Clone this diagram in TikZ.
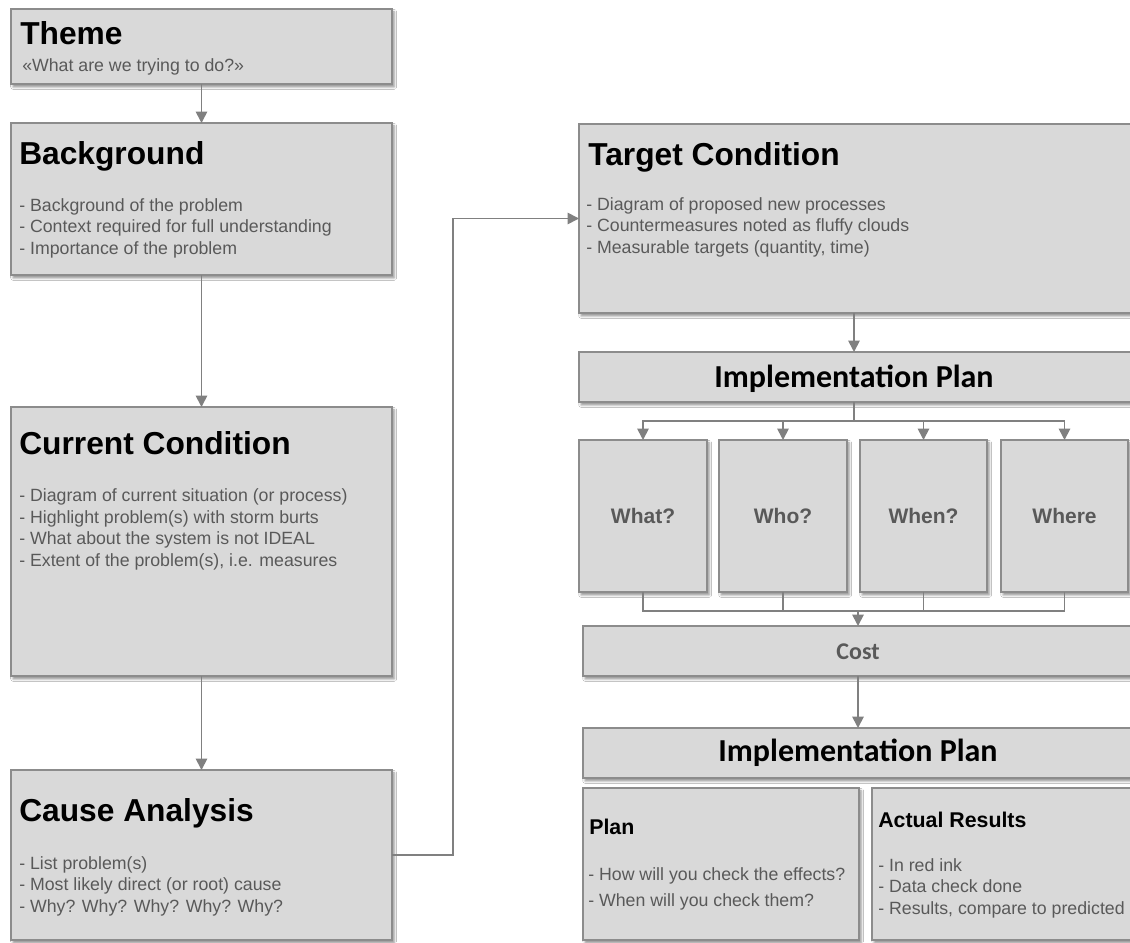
\documentclass[tikz,border=0pt]{standalone}
\usepackage{fontspec}
\setmainfont{Liberation Sans}
\newfontfamily\calibfont{Carlito}
\usetikzlibrary{arrows.meta,shadows.blur}
\definecolor{boxfill}{HTML}{D9D9D9}
\definecolor{boxline}{HTML}{8C8C8C}
\definecolor{linegray}{HTML}{808080}
\definecolor{bodygray}{HTML}{595959}

\begin{document}
\begin{tikzpicture}[x=0.75pt,y=-0.75pt,
  box/.style={draw=boxline, fill=boxfill, line width=0.8pt, anchor=north west,
    inner sep=0pt, outer sep=0pt,
    blur shadow={shadow xshift=1.6pt, shadow yshift=-2.2pt,
      shadow blur radius=1.8pt, shadow opacity=45}},
  sz/.style 2 args={minimum width=#1*0.75pt, minimum height=#2*0.75pt},
  ttl/.style={anchor=base west, inner sep=0pt,
    font=\bfseries\fontsize{23.8}{28}\selectfont},
  subttl/.style={anchor=base west, inner sep=0pt,
    font=\bfseries\fontsize{16}{19}\selectfont},
  % multi-line text: the base anchor sits on the last line's baseline
  txt/.style={anchor=base west, inner sep=0pt, align=left, text=bodygray,
    font=\fontsize{13.3}{16.1}\selectfont},
  bar/.style={anchor=base, inner sep=0pt,
    font=\calibfont\bfseries\fontsize{#1}{#1}\selectfont},
  cell/.style={anchor=base, inner sep=0pt, text=bodygray,
    font=\bfseries\fontsize{15.75}{18}\selectfont},
  link/.style={draw=linegray, line width=1.3pt},
  conn/.style={link, -{Triangle[length=8.5pt,width=8.5pt]}}
]
\useasboundingbox[fill=white] (0,0) rectangle (1130,942);

% ---- left column ----
\node[box, sz={381}{75}]  (theme) at (11,9)   {};
\node[box, sz={381}{152}] (bg)    at (11,123) {};
\node[box, sz={381}{269}] (cur)   at (11,407) {};
\node[box, sz={381}{170}] (cause) at (11,770) {};

\node[ttl] (theme-t) at (20,45) {Theme};
\node[txt] (theme-s) at (22,72) {«What are we trying to do?»};

\node[ttl] (bg-t) at (19,164) {Background};
\node[txt] (bg-b) at (19,254) {- Background of the problem\\
  - Context required for full understanding\\
  - Importance of the problem};

\node[ttl] (cur-t) at (19,454) {Current Condition};
\node[txt] (cur-b) at (19,566) {- Diagram of current situation (or process)\\
  - Highlight problem(s) with storm burts\\
  - What about the system is not IDEAL\\
  - Extent of the problem(s), i.e. measures};

\node[ttl] (cause-t) at (19,821) {Cause Analysis};
\node[txt] (cause-b) at (19,912) {- List problem(s)\\
  - Most likely direct (or root) cause\\
  - Why? Why? Why? Why? Why?};

% ---- right column ----
\node[box, sz={570}{189}] (tc)   at (579,124) {};
\node[box, sz={570}{50}]  (imp1) at (579,352) {};
\node[box, sz={128}{152}] (what)  at (579,440) {};
\node[box, sz={128}{152}] (who)   at (719,440) {};
\node[box, sz={127}{152}] (when)  at (860,440) {};
\node[box, sz={127}{152}] (where) at (1001,440) {};
\node[box, sz={550}{50}]  (cost) at (583,626) {};
\node[box, sz={550}{50}]  (imp2) at (583,728) {};
\node[box, sz={276}{152}] (plan) at (583,788) {};
\node[box, sz={280}{152}] (act)  at (872,788) {};

\coordinate (colA) at (854,0);
\coordinate (busT) at (854,421);
\coordinate (busB) at (858,611);

\node[ttl] (tc-t) at (588,165) {Target Condition};
\node[txt] (tc-b) at (586,253) {- Diagram of proposed new processes\\
  - Countermeasures noted as fluffy clouds\\
  - Measurable targets (quantity, time)};

\node[bar=24] (imp1-t) at (854,387) {Implementation Plan};
\node[cell] (what-t)  at (what.center  |- 0,523) {What?};
\node[cell] (who-t)   at (who.center   |- 0,523) {Who?};
\node[cell] (when-t)  at (when.center  |- 0,523) {When?};
\node[cell] (where-t) at (where.center |- 0,523) {Where};
\node[bar=18, text=bodygray] (cost-t) at (858,659) {Cost};
\node[bar=24] (imp2-t) at (858,761) {Implementation Plan};

\node[subttl] (plan-t) at (589,834) {Plan};
\node[txt, font=\fontsize{13.3}{19.2}\selectfont] (plan-b) at (588,906)
  {- How will you check the effects?\\
  - When will you check them?};

\node[subttl] (act-t) at (878,827) {Actual Results};
\node[txt] (act-b) at (878,914) {- In red ink\\
  - Data check done\\
  - Results, compare to predicted};

% ---- connectors ----
\draw[conn] (theme.south) -- (bg.north);
\draw[conn] (bg.south) -- (cur.north);
\draw[conn] (cur.south) -- (cause.north);
\draw[conn] (cause.east) -- ++(61,0) |- (tc.west);

\draw[conn] (tc.south -| colA) -- (imp1.north -| colA);
\draw[link] (imp1.south -| colA) -- (busT);
\draw[conn] (busT) -| (what.north);
\draw[conn] (busT) -| (who.north);
\draw[conn] (busT) -| (when.north);
\draw[conn] (busT) -| (where.north);

\draw[link] (what.south)  |- (busB);
\draw[link] (who.south)   |- (busB);
\draw[link] (when.south)  |- (busB);
\draw[link] (where.south) |- (busB);
\draw[conn] (busB) -- (cost.north);
\draw[conn] (cost.south) -- (imp2.north);
\end{tikzpicture}
\end{document}
